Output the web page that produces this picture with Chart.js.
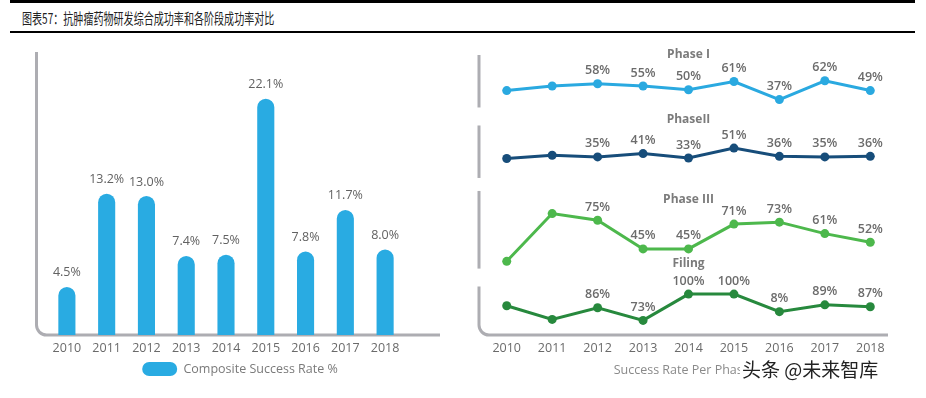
<!DOCTYPE html>
<html>
<head>
<meta charset="utf-8">
<script src="https://cdn.jsdelivr.net/npm/chart.js@4.4.1/dist/chart.umd.min.js"></script>
<style>
  body { margin: 0; background: #fff; }
  #page { position: relative; width: 926px; height: 398px; overflow: hidden; background: #fff; }
  .rule { position: absolute; left: 10px; width: 905px; background: #000; }
  #title { position: absolute; left: 22px; top: 7px; font: 15px "Noto Sans CJK SC", sans-serif; color: #222;
           line-height: 22px; white-space: nowrap; transform: scaleX(0.67); transform-origin: left center; }
  #left { position: absolute; left: 0; top: 40px; width: 480px; height: 350px; }
  #right { position: absolute; left: 460px; top: 40px; width: 466px; height: 345px; }
  #mark { position: absolute; left: 740px; top: 356px; padding: 0 6px 0 2px; background: #fff;
          font: 19px "Noto Sans CJK SC", sans-serif; color: #222; line-height: 26px; }
</style>
</head>
<body>
<div id="page">
  <div class="rule" style="top:0;height:3px"></div>
  <div id="title">图表57：抗肿瘤药物研发综合成功率和各阶段成功率对比</div>
  <div class="rule" style="top:31px;height:2px"></div>
  <div id="left"><canvas id="compositeChart"></canvas></div>
  <div id="right"><canvas id="phaseChart"></canvas></div>
  <div id="mark">头条 @未来智库</div>
</div>
<script>
// data
const years = ['2010', '2011', '2012', '2013', '2014', '2015', '2016', '2017', '2018'];
const compositeRate = [4.5, 13.2, 13.0, 7.4, 7.5, 22.1, 7.8, 11.7, 8.0];

const phase1 = [49, 55, 58, 55, 50, 61, 37, 62, 49];
const phase1Labels = ['', '', '58%', '55%', '50%', '61%', '37%', '62%', '49%'];
const phase2 = [32, 38, 35, 41, 33, 51, 36, 35, 36];
const phase2Labels = ['', '', '35%', '41%', '33%', '51%', '36%', '35%', '36%'];
const phase3 = [32, 82, 75, 45, 45, 71, 73, 61, 52];
const phase3Labels = ['', '', '75%', '45%', '45%', '71%', '73%', '61%', '52%'];
const filing = [88, 74, 86, 73, 100, 100, 82, 89, 87];
const filingLabels = ['', '', '86%', '73%', '100%', '100%', '8%', '89%', '87%'];

const AXIS_GREY = '#adadb2';
const TEXT_GREY = '#626262';
const FONT = '"Open Sans", sans-serif';

Chart.defaults.font.family = FONT;
Chart.defaults.animation = false;

// ---------- left: composite success rate ----------
const leftDeco = {
  id: 'leftDeco',
  beforeDatasetsDraw(chart) {
    const {ctx, chartArea} = chart;
    const x0 = chartArea.left - 10.5, r = 10;
    ctx.save();
    ctx.strokeStyle = AXIS_GREY;
    ctx.lineWidth = 3;
    ctx.beginPath();
    ctx.moveTo(x0, chartArea.top - 5);
    ctx.lineTo(x0, chartArea.bottom - r);
    ctx.arcTo(x0, chartArea.bottom, x0 + r, chartArea.bottom, r);
    ctx.lineTo(chartArea.right + 35, chartArea.bottom);
    ctx.stroke();
    ctx.restore();
  },
  afterDatasetsDraw(chart) {
    const {ctx} = chart;
    const meta = chart.getDatasetMeta(0);
    ctx.save();
    ctx.font = '12.5px ' + FONT;
    ctx.fillStyle = TEXT_GREY;
    ctx.textAlign = 'center';
    ctx.textBaseline = 'middle';
    meta.data.forEach((bar, i) => {
      ctx.fillText(compositeRate[i].toFixed(1) + '%', bar.x, bar.y - 14);
    });
    ctx.restore();
  }
};

new Chart(document.getElementById('compositeChart'), {
  type: 'bar',
  data: {
    labels: years,
    datasets: [{
      label: 'Composite Success Rate %',
      data: compositeRate,
      backgroundColor: '#29abe2',
      borderRadius: {topLeft: 9, topRight: 9, bottomLeft: 0, bottomRight: 0},
      borderSkipped: 'bottom',
      barPercentage: 0.43,
      categoryPercentage: 1
    }]
  },
  options: {
    responsive: true,
    maintainAspectRatio: false,
    layout: { padding: { left: 47, right: 47, top: 17, bottom: 4 } },
    scales: {
      x: {
        grid: { display: false, drawTicks: false },
        border: { display: false },
        ticks: { color: '#6a6a6a', font: { size: 12.5 }, padding: 6 }
      },
      y: {
        position: 'right',
        min: 0,
        max: 26,
        grid: { display: false, drawTicks: false },
        border: { display: false },
        ticks: { display: false },
        afterFit(scale) { scale.width = 28; }
      }
    },
    plugins: {
      legend: {
        position: 'bottom',
        labels: {
          boxWidth: 35,
          boxHeight: 14,
          useBorderRadius: true,
          borderRadius: 7,
          color: '#7a7a7a',
          font: { size: 12.5 },
          padding: 0
        }
      },
      tooltip: { enabled: false }
    }
  },
  plugins: [leftDeco]
});

// ---------- right: success rate per phase ----------
const phaseDeco = {
  id: 'phaseDeco',
  beforeDatasetsDraw(chart) {
    const {ctx, chartArea} = chart;
    const x0 = chartArea.left - 5, r = 10;
    ctx.save();
    ctx.strokeStyle = AXIS_GREY;
    ctx.lineWidth = 3;
    ['y1', 'y2', 'y3'].forEach(id => {
      const s = chart.scales[id], p = s.options.panel;
      ctx.beginPath();
      ctx.moveTo(x0, s.top + p.barTop);
      ctx.lineTo(x0, s.bottom - p.barBottom);
      ctx.stroke();
    });
    const f = chart.scales.y4;
    ctx.beginPath();
    ctx.moveTo(x0, f.top + f.options.panel.barTop);
    ctx.lineTo(x0, chartArea.bottom - r);
    ctx.arcTo(x0, chartArea.bottom, x0 + r, chartArea.bottom, r);
    ctx.lineTo(chartArea.right - 5, chartArea.bottom);
    ctx.stroke();
    ctx.restore();
  },
  afterDatasetsDraw(chart) {
    const {ctx, chartArea} = chart;
    const cx = (chartArea.left + chartArea.right) / 2;
    ctx.save();
    ctx.textAlign = 'center';
    ctx.textBaseline = 'middle';
    ['y1', 'y2', 'y3', 'y4'].forEach(id => {
      const s = chart.scales[id];
      ctx.font = 'bold 12px ' + FONT;
      ctx.fillStyle = '#7b7b7b';
      ctx.fillText(s.options.panel.title, cx, s.top + s.options.panel.titleDy);
    });
    ctx.font = '600 12.5px ' + FONT;
    ctx.fillStyle = '#6c6c6c';
    chart.data.datasets.forEach((ds, di) => {
      chart.getDatasetMeta(di).data.forEach((pt, i) => {
        if (ds.pointText[i]) ctx.fillText(ds.pointText[i], pt.x, pt.y - 13);
      });
    });
    ctx.restore();
  }
};

function phaseSet(label, values, texts, color, axis) {
  return {
    label: label,
    data: values,
    pointText: texts,
    yAxisID: axis,
    borderColor: color,
    backgroundColor: color,
    borderWidth: 3,
    pointRadius: 4.5,
    pointBorderWidth: 0,
    tension: 0,
    clip: false
  };
}

function panelAxis(min, max, weight, panel) {
  return {
    type: 'linear',
    position: 'left',
    stack: 'phases',
    stackWeight: weight,
    min: min,
    max: max,
    panel: panel,
    grid: { display: false, drawTicks: false },
    border: { display: false },
    ticks: { display: false }
  };
}

new Chart(document.getElementById('phaseChart'), {
  type: 'line',
  data: {
    labels: years,
    datasets: [
      phaseSet('Phase I', phase1, phase1Labels, '#2aa9e0', 'y1'),
      phaseSet('PhaseII', phase2, phase2Labels, '#174d7a', 'y2'),
      phaseSet('Phase III', phase3, phase3Labels, '#4db84c', 'y3'),
      phaseSet('Filing', filing, filingLabels, '#27893d', 'y4')
    ]
  },
  options: {
    responsive: true,
    maintainAspectRatio: false,
    layout: { padding: { left: 24, right: 33, top: 6, bottom: 7 } },
    scales: {
      x: {
        offset: true,
        grid: { display: false, drawTicks: false },
        border: { display: false },
        ticks: { color: '#6a6a6a', font: { size: 12.5 }, padding: 6 },
        title: {
          display: true,
          text: 'Success Rate Per Phase %',
          color: '#8a8a8a',
          font: { size: 12.5 },
          padding: { top: 1, bottom: 0 }
        }
      },
      // declared bottom-up: the last left axis is placed on top of the stack
      y4: panelAxis(58, 118, 58, { title: 'Filing', titleDy: -13, barTop: 10 }),
      y3: panelAxis(16, 113, 92, { title: 'Phase III', titleDy: 16, barTop: 7, barBottom: 8 }),
      y2: panelAxis(-14, 110, 68, { title: 'PhaseII', titleDy: 4, barTop: 10, barBottom: 6 }),
      y1: panelAxis(16, 108, 69, { title: 'Phase I', titleDy: 9, barTop: 9, barBottom: 8 })
    },
    plugins: {
      legend: { display: false },
      tooltip: { enabled: false }
    }
  },
  plugins: [phaseDeco]
});
</script>
</body>
</html>
